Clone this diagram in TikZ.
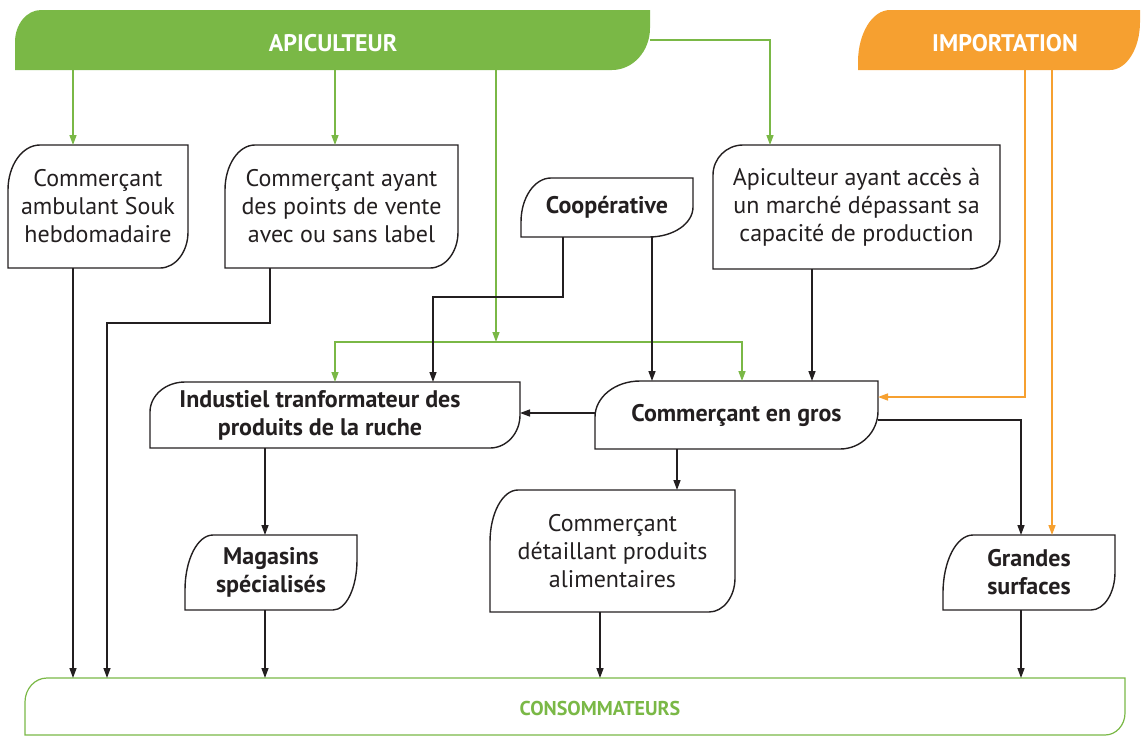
\documentclass[tikz,border=0pt]{standalone}
\usepackage{fontspec}
\setmainfont{PT Sans}
\usetikzlibrary{arrows.meta,backgrounds,calc}
\definecolor{gr}{RGB}{122,184,70}
\definecolor{og}{RGB}{246,160,48}
\definecolor{ink}{RGB}{35,31,32}
% #1 style, #2 node, #3/#4 top-left x/y radius, #5/#6 bottom-right x/y radius (pt)
\newcommand\leafpath[6]{%
 \path[#1] (#2.south west) -- ([yshift=-#4pt]#2.north west)
   arc[start angle=180,end angle=90,x radius=#3pt,y radius=#4pt]
   -- (#2.north east) -- ([yshift=#6pt]#2.south east)
   arc[start angle=0,end angle=-90,x radius=#5pt,y radius=#6pt] -- cycle;}
\tikzset{
 box/.style={draw=none, align=center, text=ink, inner sep=0pt, outer sep=0pt,
   font=\fontsize{24}{28}\selectfont},
 bbox/.style={box, font=\fontsize{24}{28}\selectfont\bfseries},
 band/.style={draw=none, align=center, inner sep=0pt, outer sep=0pt,
   font=\fontsize{24}{28}\selectfont\bfseries},
 outline/.style={draw=ink, line width=1.4pt},
 tip/.style={-{Triangle[length=10pt,width=7pt]}},
 blk/.style={draw=ink, line width=1.4pt, tip},
 grn/.style={draw=gr, line width=1.4pt, tip},
 org/.style={draw=og, line width=1.4pt, tip},
}
\begin{document}
\begin{tikzpicture}[x=1pt,y=-1pt]
\useasboundingbox (0,0) rectangle (1147,737);
% top bands
\node[band, minimum width=635pt, minimum height=60pt] (api) at (332.5,40) {};
\node[band, minimum width=282pt, minimum height=60pt] (imp) at (999,40) {};
\begin{pgfonlayer}{background}
\leafpath{fill=gr}{api}{26}{32}{38}{42}
\leafpath{fill=og}{imp}{32}{52}{30}{48}
\end{pgfonlayer}
\node[band, text=white] (apit) at (333,43) {APICULTEUR};
\node[band, text=white] (impt) at (1005,43) {IMPORTATION};
% boxes
\node[box, minimum width=180pt, minimum height=123pt] (amb) at (98,206.5)
  {Commerçant\\ambulant Souk\\hebdomadaire};
\node[box, minimum width=233pt, minimum height=123pt] (pts) at (341.5,206.5)
  {Commerçant ayant\\des points de vente\\avec ou sans label};
\node[bbox, minimum width=172pt, minimum height=59pt] (coop) at (607,207.5)
  {Coopérative};
\node[box, minimum width=287pt, minimum height=124pt] (apac) at (856.5,207)
  {Apiculteur ayant accès à\\un marché dépassant sa\\capacité de production};
\node[bbox, minimum width=370pt, minimum height=66pt] (ind) at (335,415) {};
\node[bbox] (indt) at (320,415) {Industiel tranformateur des\\produits de la ruche};
\node[bbox, minimum width=283pt, minimum height=68pt] (gros) at (736.5,415)
  {Commerçant en gros};
\node[bbox, minimum width=172pt, minimum height=75pt] (mag) at (271,572.5)
  {Magasins\\spécialisés};
\node[box, minimum width=245pt, minimum height=122pt] (det) at (612.5,551)
  {Commerçant\\détaillant produits\\alimentaires};
\node[bbox, minimum width=172pt, minimum height=75pt] (gs) at (1029,572.5)
  {Grandes\\surfaces};
\node[draw=none, inner sep=0pt, outer sep=0pt, minimum width=1100pt, minimum height=57pt] (cons) at (575,706.5) {};
\node[band, text=gr, font=\fontsize{20}{24}\selectfont\bfseries] (const) at (600,708) {CONSOMMATEURS};
\leafpath{outline}{amb}{32}{45}{28}{36}
\leafpath{outline}{pts}{30}{45}{28}{36}
\leafpath{outline}{coop}{30}{44}{44}{30}
\leafpath{outline}{apac}{30}{30}{31}{30}
\leafpath{outline}{ind}{35}{30}{30}{33}
\leafpath{outline}{gros}{45}{36}{38}{38}
\leafpath{outline}{mag}{28}{55}{24}{50}
\leafpath{outline}{det}{28}{52}{26}{34}
\leafpath{outline}{gs}{30}{58}{24}{38}
\leafpath{draw=gr, line width=1.2pt}{cons}{22}{24}{20}{22}
% junction coordinates
\coordinate (j) at (496,342);
\coordinate (k1) at (107,323);
\coordinate (k2) at (433,297);
\coordinate (k3) at (1021,420);
% green connectors
\draw[grn] ([xshift=-25pt]amb.north |- api.south) -- ([xshift=-25pt]amb.north);
\draw[grn] ([xshift=-6.5pt]pts.north |- api.south) -- ([xshift=-6.5pt]pts.north);
\draw[grn] (api.east) -| ([xshift=-86.5pt]apac.north);
\draw[grn] (j |- api.south) -- (j);
\draw[grn] (j) -| ([xshift=0pt]ind.north);
\draw[grn] (j) -| ([xshift=5.5pt]gros.north);
% black connectors
\draw[blk] ([xshift=-25pt]amb.south) -- ([xshift=-25pt]amb.south |- cons.north);
\draw[blk] ([xshift=-71.5pt]pts.south) |- (k1) -- (k1 |- cons.north);
\draw[blk] ([xshift=-44pt]coop.south) |- (k2) -- (k2 |- ind.north);
\draw[blk] ([xshift=45pt]coop.south) -- ([xshift=45pt]coop.south |- gros.north);
\draw[blk] ([xshift=-44.5pt]apac.south) -- ([xshift=-44.5pt]apac.south |- gros.north);
\draw[blk] ([yshift=2pt]gros.west) -- ([yshift=2pt]ind.east);
\draw[blk] ([xshift=-59.5pt]gros.south) -- ([xshift=-59.5pt]gros.south |- det.north);
\draw[blk] ([yshift=-5pt]gros.east) -- (k3) -- (k3 |- gs.north);
\draw[blk] ([xshift=-70pt]ind.south) -- ([xshift=-70pt]ind.south |- mag.north);
\draw[blk] ([xshift=-6pt]mag.south) -- ([xshift=-6pt]mag.south |- cons.north);
\draw[blk] ([xshift=-12.5pt]det.south) -- ([xshift=-12.5pt]det.south |- cons.north);
\draw[blk] ([xshift=-8pt]gs.south) -- ([xshift=-8pt]gs.south |- cons.north);
% orange connectors
\draw[org] ([xshift=26pt]imp.south) |- ([yshift=18pt]gros.east);
\draw[org] ([xshift=53pt]imp.south) -- ([xshift=53pt]imp.south |- gs.north);
\end{tikzpicture}
\end{document}
